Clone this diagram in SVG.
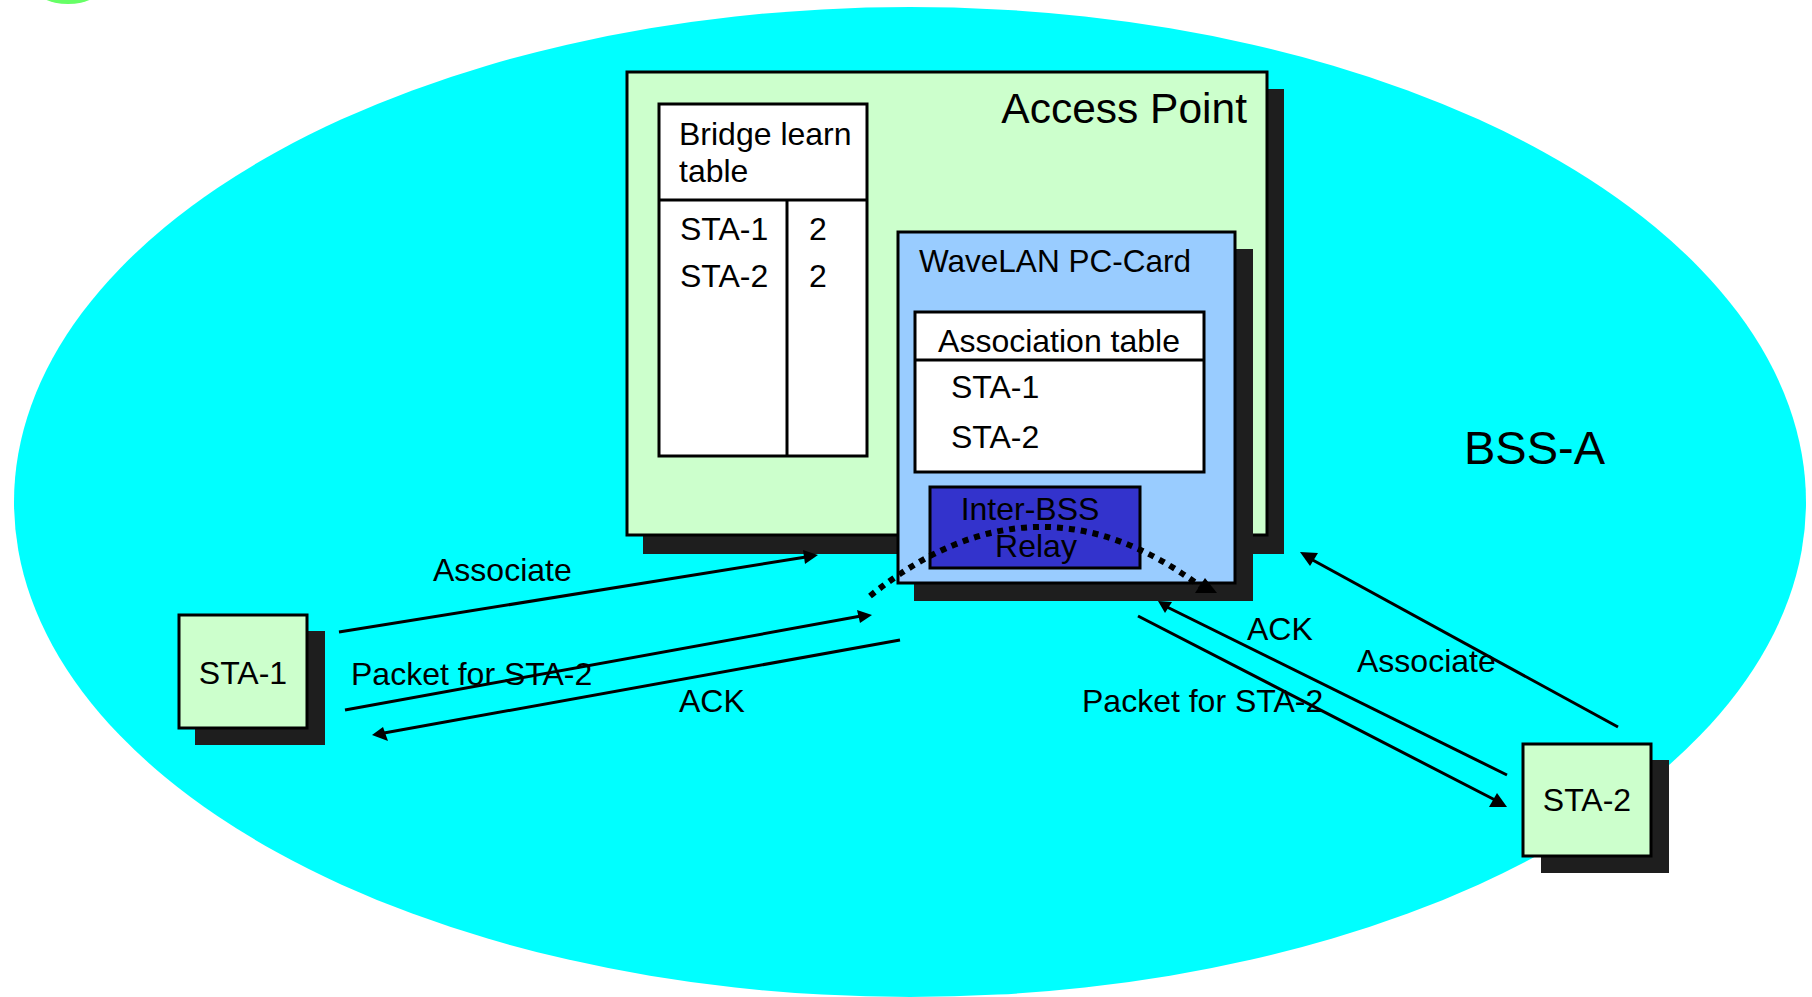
<svg xmlns="http://www.w3.org/2000/svg" width="1812" height="997" viewBox="0 0 1812 997">
<style>
text{font-family:"Liberation Sans",Arial,sans-serif;fill:#000}
.t{font-size:32px}
.box{stroke:#000;stroke-width:3}
.sh{fill:#1e1e1e}
.ln{stroke:#000;stroke-width:3;fill:none}
.ah{fill:#000}
</style>
<rect width="1812" height="997" fill="#fff"/>
<ellipse cx="68" cy="-14" rx="34" ry="18" fill="#66ff66"/>
<g id="bss-a">
<ellipse cx="910" cy="502" rx="896" ry="495" fill="#00ffff"/>
<text x="1464" y="464" font-size="47">BSS-A</text>
</g>
<g id="access-point">
<rect class="sh" x="643" y="89" width="641" height="465"/>
<rect class="box" x="627" y="72" width="640" height="463" fill="#ccffcc"/>
<text x="1247" y="123" font-size="42.5" text-anchor="end">Access Point</text>
</g>
<g id="bridge-table">
<rect class="box" x="659" y="104" width="208" height="352" fill="#fff"/>
<line class="ln" x1="659" y1="200" x2="867" y2="200"/>
<line class="ln" x1="787" y1="200" x2="787" y2="456"/>
<text class="t" x="679" y="145">Bridge learn</text>
<text class="t" x="679" y="182">table</text>
<text class="t" x="680" y="240">STA-1</text>
<text class="t" x="809" y="240">2</text>
<text class="t" x="680" y="287">STA-2</text>
<text class="t" x="809" y="287">2</text>
</g>
<g id="wavelan-card">
<rect class="sh" x="914" y="249" width="339" height="352"/>
<rect class="box" x="898" y="232" width="337" height="351" fill="#99ccff"/>
<text x="919" y="272" font-size="31.5">WaveLAN PC-Card</text>
</g>
<g id="association-table">
<rect class="box" x="915" y="312" width="289" height="160" fill="#fff"/>
<line class="ln" x1="915" y1="360" x2="1204" y2="360"/>
<text class="t" x="1059" y="352" text-anchor="middle">Association table</text>
<text class="t" x="951" y="398">STA-1</text>
<text class="t" x="951" y="448">STA-2</text>
</g>
<g id="inter-bss-relay">
<rect class="box" x="930" y="487" width="210" height="81" fill="#3333cc"/>
<text class="t" x="1030" y="520" text-anchor="middle">Inter-BSS</text>
<text class="t" x="1036" y="557" text-anchor="middle">Relay</text>
</g>
<g id="sta-1">
<rect class="sh" x="195" y="631" width="130" height="114"/>
<rect class="box" x="179" y="615" width="128" height="113" fill="#ccffcc"/>
<text class="t" x="243" y="684" text-anchor="middle">STA-1</text>
</g>
<g id="sta-2">
<rect class="sh" x="1541" y="760" width="128" height="113"/>
<rect class="box" x="1523" y="744" width="128" height="112" fill="#ccffcc"/>
<text class="t" x="1587" y="811" text-anchor="middle">STA-2</text>
</g>
<g id="connectors">
<path d="M870,596 Q1035,463 1200,586" stroke="#000" stroke-width="6" fill="none" stroke-dasharray="6 6"/>
<polygon class="ah" points="1205,578 1195,593 1217,593"/>
<line class="ln" x1="339" y1="632" x2="806" y2="557"/>
<polygon class="ah" points="818,555 803,550 805,564"/>
<line class="ln" x1="345" y1="710" x2="861" y2="616"/>
<polygon class="ah" points="872,615 857,610 860,623"/>
<line class="ln" x1="900" y1="640" x2="384" y2="733"/>
<polygon class="ah" points="372,735 383,727 388,741"/>
<line class="ln" x1="1618" y1="727" x2="1309" y2="558"/>
<polygon class="ah" points="1300,552 1318,553 1310,566"/>
<line class="ln" x1="1507" y1="775" x2="1165" y2="606"/>
<polygon class="ah" points="1158,601 1172,602 1165,613"/>
<line class="ln" x1="1138" y1="616" x2="1497" y2="801"/>
<polygon class="ah" points="1497,793 1489,807 1507,807"/>
<text class="t" x="433" y="581">Associate</text>
<text class="t" x="351" y="685">Packet for STA-2</text>
<text class="t" x="679" y="712">ACK</text>
<text class="t" x="1357" y="672">Associate</text>
<text class="t" x="1247" y="640">ACK</text>
<text class="t" x="1082" y="712">Packet for STA-2</text>
</g>
</svg>
